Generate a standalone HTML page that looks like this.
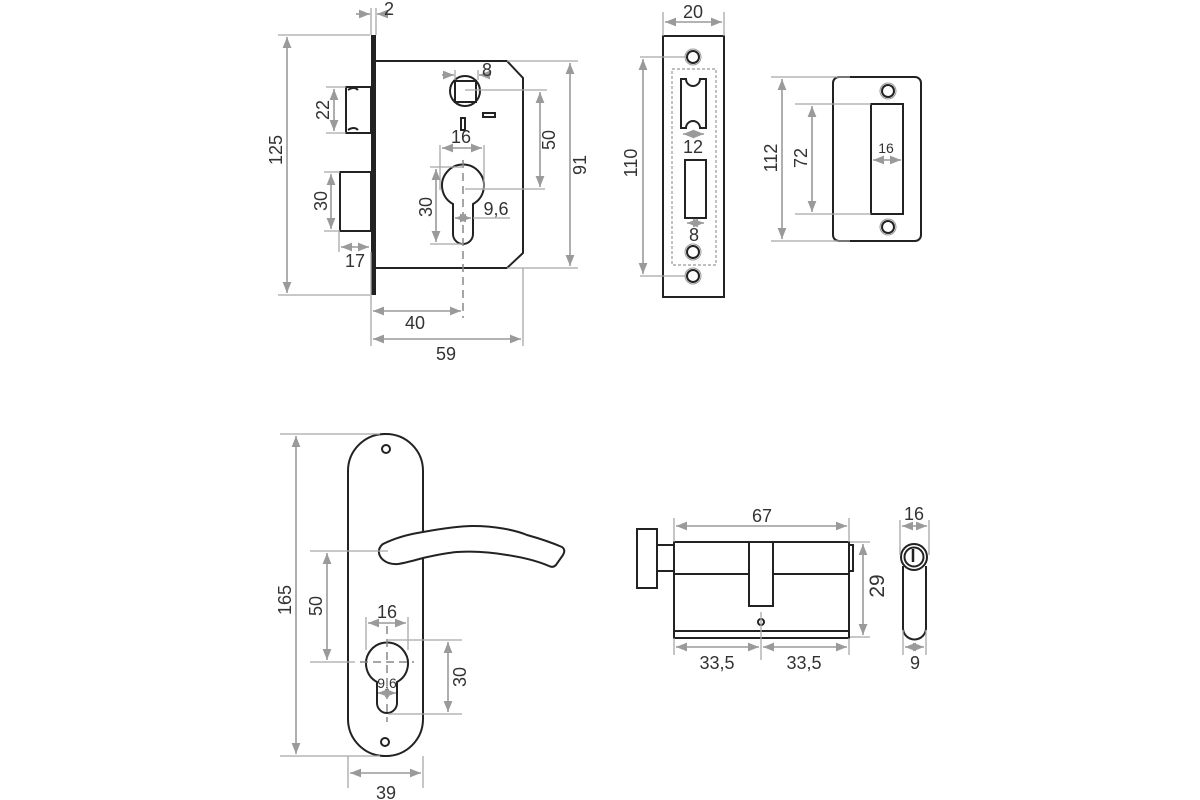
<!DOCTYPE html>
<html><head><meta charset="utf-8"><style>
html,body{margin:0;padding:0;background:#fff;}
svg{display:block;}
text{font-family:"Liberation Sans",sans-serif;font-size:18px;fill:#333;}
.o{fill:none;stroke:#222;stroke-width:2;}
.ow{fill:#fff;stroke:#222;stroke-width:2;}
.d{fill:none;stroke:#9a9a9a;stroke-width:1.6;}
.e{fill:none;stroke:#a8a8a8;stroke-width:1.3;}
</style></head><body>
<svg width="1200" height="800" viewBox="0 0 1200 800" xmlns="http://www.w3.org/2000/svg">
<defs>
<marker id="a" viewBox="0 0 10 10" refX="10" refY="5" markerWidth="7" markerHeight="7" orient="auto-start-reverse"><path d="M0,1 L10,5 L0,9 z" fill="#9a9a9a"/></marker>
</defs>

<!-- ===== Lock body ===== -->
<path class="o" d="M376,61 H507 L523,78 V253 L507,268 H376"/>
<rect x="371" y="35" width="5" height="260" fill="#222"/>
<rect class="o" x="346" y="87" width="25" height="46"/>
<path class="o" d="M348,90 q6,-4 10,0 M348,130 q6,-4 10,0" />
<rect class="o" x="340" y="172" width="31" height="59"/>
<circle class="o" cx="465" cy="91" r="15"/>
<rect class="o" x="455" y="81" width="21" height="21"/>
<rect class="o" x="461" y="118" width="4" height="12" stroke-width="1.5"/>
<rect class="o" x="483" y="113" width="12" height="4" stroke-width="1.5"/>
<path class="o" d="M453,204 A21,21 0 1 1 473,204 V234 A10,10 0 0 1 453,234 Z"/>
<line x1="463" y1="160" x2="463" y2="318" stroke="#888" stroke-width="1.5" stroke-dasharray="8,5"/>

<!-- dims lock -->
<path class="e" d="M278,35 H370 M278,295 H370"/>
<line class="d" x1="287" y1="37" x2="287" y2="293" marker-start="url(#a)" marker-end="url(#a)"/>
<text transform="translate(282,150) rotate(-90)" text-anchor="middle">125</text>
<path class="e" d="M326,87 H346 M326,133 H346"/>
<line class="d" x1="334" y1="89" x2="334" y2="131" marker-start="url(#a)" marker-end="url(#a)"/>
<text transform="translate(329,110) rotate(-90)" text-anchor="middle">22</text>
<path class="e" d="M324,172 H340 M324,231 H340"/>
<line class="d" x1="331" y1="174" x2="331" y2="229" marker-start="url(#a)" marker-end="url(#a)"/>
<text transform="translate(327,201) rotate(-90)" text-anchor="middle">30</text>
<path class="e" d="M339,231 V252 M371,295 V252"/>
<line class="d" x1="341" y1="247" x2="369" y2="247" marker-start="url(#a)" marker-end="url(#a)"/>
<text x="355" y="267" text-anchor="middle">17</text>
<path class="e" d="M371,35 V8 M376,35 V8"/>
<line class="d" x1="356" y1="14" x2="370" y2="14" marker-end="url(#a)"/>
<line class="d" x1="391" y1="14" x2="377" y2="14" marker-end="url(#a)"/>
<text x="389" y="15" text-anchor="middle">2</text>
<path class="e" d="M455,70 V80 M478,70 V80"/>
<line class="d" x1="442" y1="75" x2="454" y2="75" marker-end="url(#a)"/>
<line class="d" x1="491" y1="75" x2="479" y2="75" marker-end="url(#a)"/>
<text x="487" y="76" text-anchor="middle">8</text>
<path class="e" d="M465,90 H547 M465,189 H545"/>
<line class="d" x1="540" y1="92" x2="540" y2="187" marker-start="url(#a)" marker-end="url(#a)"/>
<text transform="translate(555,140) rotate(-90)" text-anchor="middle">50</text>
<path class="e" d="M507,61 H578 M507,268 H578"/>
<line class="d" x1="570" y1="63" x2="570" y2="266" marker-start="url(#a)" marker-end="url(#a)"/>
<text transform="translate(586,165) rotate(-90)" text-anchor="middle">91</text>
<path class="e" d="M440,145 V190 M484,145 V190"/>
<line class="d" x1="442" y1="148" x2="482" y2="148" marker-start="url(#a)" marker-end="url(#a)"/>
<text x="461" y="143" text-anchor="middle">16</text>
<path class="e" d="M430,167 H463 M430,244 H463"/>
<line class="d" x1="436" y1="169" x2="436" y2="242" marker-start="url(#a)" marker-end="url(#a)"/>
<text transform="translate(432,207) rotate(-90)" text-anchor="middle">30</text>
<line class="d" x1="455" y1="218" x2="471" y2="218" marker-start="url(#a)" marker-end="url(#a)"/>
<line class="e" x1="473" y1="218" x2="510" y2="218"/>
<text x="496" y="215" text-anchor="middle">9,6</text>
<path class="e" d="M371,295 V346 M523,268 V346"/>
<line class="d" x1="373" y1="311" x2="461" y2="311" marker-start="url(#a)" marker-end="url(#a)"/>
<text x="415" y="329" text-anchor="middle">40</text>
<line class="d" x1="373" y1="339" x2="521" y2="339" marker-start="url(#a)" marker-end="url(#a)"/>
<text x="446" y="360" text-anchor="middle">59</text>

<!-- ===== Strike plate 1 ===== -->
<rect class="o" x="663" y="36" width="61" height="261"/>
<rect x="672" y="69" width="44" height="196" fill="none" stroke="#999" stroke-width="1.2" stroke-dasharray="3,2"/>
<circle class="o" cx="693" cy="57" r="6"/><circle fill="none" stroke="#999" cx="693" cy="57" r="8"/>
<circle class="o" cx="693" cy="252" r="6"/><circle fill="none" stroke="#999" cx="693" cy="252" r="8"/>
<circle class="o" cx="693" cy="276" r="6"/><circle fill="none" stroke="#999" cx="693" cy="276" r="8"/>
<path class="o" d="M681,79 H686 A7,7 0 0 0 700,79 H706 V128 H700 A7,7 0 0 0 686,128 H681 Z"/>
<rect class="o" x="685" y="160" width="21" height="58"/>
<path class="e" d="M663,36 V12 M724,36 V12"/>
<line class="d" x1="665" y1="22" x2="722" y2="22" marker-start="url(#a)" marker-end="url(#a)"/>
<text x="693" y="18" text-anchor="middle">20</text>
<line class="d" x1="683" y1="134" x2="704" y2="134" marker-start="url(#a)" marker-end="url(#a)"/>
<text x="693" y="153" text-anchor="middle">12</text>
<line class="d" x1="687" y1="223" x2="704" y2="223" marker-start="url(#a)" marker-end="url(#a)"/>
<text x="694" y="241" text-anchor="middle">8</text>
<path class="e" d="M640,57 H686 M640,276 H686"/>
<line class="d" x1="643" y1="59" x2="643" y2="274" marker-start="url(#a)" marker-end="url(#a)"/>
<text transform="translate(637,163) rotate(-90)" text-anchor="middle">110</text>

<!-- ===== Strike plate 2 ===== -->
<rect class="o" x="833" y="77" width="88" height="164" rx="6"/>
<circle class="o" cx="888" cy="91" r="6"/><circle fill="none" stroke="#999" cx="888" cy="91" r="8"/>
<circle class="o" cx="888" cy="227" r="6"/><circle fill="none" stroke="#999" cx="888" cy="227" r="8"/>
<rect class="o" x="871" y="104" width="32" height="110"/>
<path class="e" d="M771,77 H850 M771,241 H850 M795,104 H871 M795,214 H871"/>
<line class="d" x1="782" y1="79" x2="782" y2="239" marker-start="url(#a)" marker-end="url(#a)"/>
<text transform="translate(777,158) rotate(-90)" text-anchor="middle">112</text>
<line class="d" x1="812" y1="106" x2="812" y2="212" marker-start="url(#a)" marker-end="url(#a)"/>
<text transform="translate(807,158) rotate(-90)" text-anchor="middle">72</text>
<line class="d" x1="873" y1="160" x2="901" y2="160" marker-start="url(#a)" marker-end="url(#a)"/>
<text x="886" y="153" text-anchor="middle" style="font-size:14px">16</text>

<!-- ===== Handle ===== -->
<rect class="o" x="348" y="434" width="75" height="322" rx="37"/>
<circle class="o" cx="386" cy="449" r="4"/>
<circle class="o" cx="385" cy="742" r="4"/>
<path class="ow" d="M383,544 C395,538 410,534 423,532 C445,528 460,526 473,526 C495,526 515,530 527,535 C545,540 555,544 562,547 Q566,550 563,555 L556,565 Q553,568 549,566 C535,560 520,557 507,555 C490,552 472,551 457,552 C445,553 432,556 423,558 C412,561 405,563 398,564 C385,565 378,557 379,550 Q380,546 383,544 Z"/>
<path class="o" d="M377,682 A21,21 0 1 1 397,682 V703 A10,10 0 0 1 377,703 Z"/>
<g stroke="#888" stroke-width="1.5" stroke-dasharray="8,5"><line x1="387" y1="626" x2="387" y2="722"/><line x1="360" y1="662" x2="414" y2="662"/></g>
<path class="e" d="M280,434 H380 M280,756 H380"/>
<line class="d" x1="296" y1="436" x2="296" y2="754" marker-start="url(#a)" marker-end="url(#a)"/>
<text transform="translate(291,600) rotate(-90)" text-anchor="middle">165</text>
<path class="e" d="M310,551 H388 M310,662 H355"/>
<line class="d" x1="327" y1="553" x2="327" y2="660" marker-start="url(#a)" marker-end="url(#a)"/>
<text transform="translate(322,606) rotate(-90)" text-anchor="middle">50</text>
<path class="e" d="M366,617 V650 M408,617 V650"/>
<line class="d" x1="368" y1="623" x2="406" y2="623" marker-start="url(#a)" marker-end="url(#a)"/>
<text x="387" y="618" text-anchor="middle">16</text>
<path class="e" d="M388,640 H462 M388,714 H462"/>
<line class="d" x1="448" y1="642" x2="448" y2="712" marker-start="url(#a)" marker-end="url(#a)"/>
<text transform="translate(466,677) rotate(-90)" text-anchor="middle">30</text>
<line class="d" x1="378" y1="693" x2="396" y2="693" marker-start="url(#a)" marker-end="url(#a)"/>
<text x="387" y="688" text-anchor="middle" style="font-size:14px">9,6</text>
<path class="e" d="M348,756 V788 M423,756 V788"/>
<line class="d" x1="350" y1="773" x2="421" y2="773" marker-start="url(#a)" marker-end="url(#a)"/>
<text x="386" y="799" text-anchor="middle">39</text>

<!-- ===== Cylinder ===== -->
<rect class="o" x="637" y="529" width="20" height="59"/>
<rect class="o" x="657" y="545" width="17" height="26"/>
<rect class="o" x="674" y="542" width="175" height="96"/>
<line class="o" x1="674" y1="574" x2="849" y2="574"/>
<line class="o" x1="674" y1="631" x2="849" y2="631"/>
<rect class="ow" x="749" y="542" width="24" height="64"/>
<rect class="o" x="849" y="545" width="4" height="26"/>
<circle class="o" cx="761" cy="622" r="3"/>
<line x1="761" y1="612" x2="761" y2="660" stroke="#aaa" stroke-width="1.3"/>
<path class="e" d="M674,542 V518 M849,542 V518"/>
<line class="d" x1="676" y1="526" x2="847" y2="526" marker-start="url(#a)" marker-end="url(#a)"/>
<text x="762" y="522" text-anchor="middle">67</text>
<path class="e" d="M850,542 H870 M850,637 H870"/>
<line class="d" x1="863" y1="544" x2="863" y2="635" marker-start="url(#a)" marker-end="url(#a)"/>
<text transform="translate(884,586) rotate(-90)" text-anchor="middle" style="font-size:21px">29</text>
<path class="e" d="M674,638 V655 M849,638 V655"/>
<line class="d" x1="676" y1="647" x2="759" y2="647" marker-start="url(#a)" marker-end="url(#a)"/>
<line class="d" x1="763" y1="647" x2="847" y2="647" marker-start="url(#a)" marker-end="url(#a)"/>
<text x="717" y="669" text-anchor="middle">33,5</text>
<text x="804" y="669" text-anchor="middle">33,5</text>
<!-- side view -->
<path class="o" d="M903,566 V628 A11.5,11.5 0 0 0 926,628 V566"/>
<circle class="ow" cx="914" cy="557" r="13"/>
<circle class="o" cx="914" cy="557" r="9.5"/>
<line x1="913" y1="549" x2="913" y2="562" stroke="#222" stroke-width="2.5"/>
<path class="e" d="M900,520 V555 M929,520 V555 M903,630 V655 M926,630 V655"/>
<line class="d" x1="902" y1="526" x2="927" y2="526" marker-start="url(#a)" marker-end="url(#a)"/>
<text x="914" y="520" text-anchor="middle">16</text>
<line class="d" x1="905" y1="647" x2="924" y2="647" marker-start="url(#a)" marker-end="url(#a)"/>
<text x="915" y="669" text-anchor="middle">9</text>
</svg>
</body></html>
